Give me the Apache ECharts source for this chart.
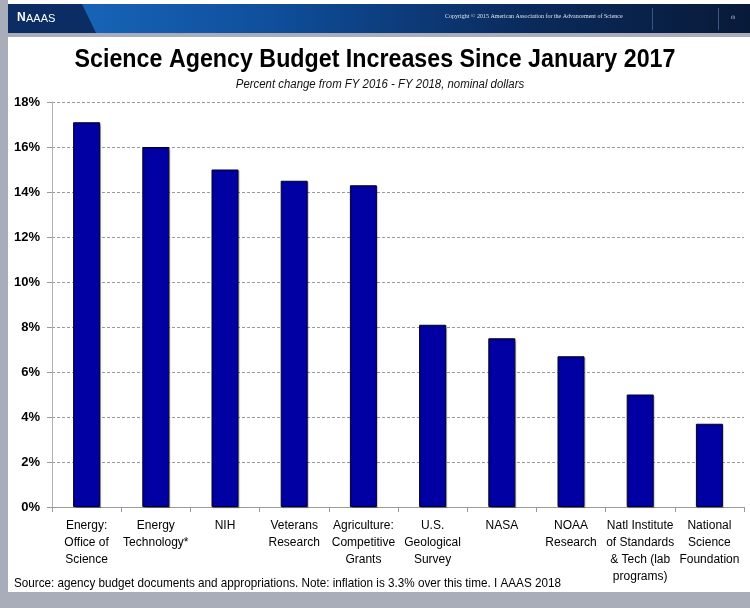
<!DOCTYPE html>
<html>
<head>
<meta charset="utf-8">
<script src="https://cdn.jsdelivr.net/npm/echarts@6/dist/echarts.min.js"></script>
<style>
html, body { margin: 0; padding: 0; background: #fff; }
#chart { width: 750px; height: 608px; }
</style>
</head>
<body>
<div id="chart"></div>
<script>
// agencies, in the order shown
var agencies = [
	'Energy:\nOffice of\nScience',
	'Energy\nTechnology*',
	'NIH',
	'Veterans\nResearch',
	'Agriculture:\nCompetitive\nGrants',
	'U.S.\nGeological\nSurvey',
	'NASA',
	'NOAA\nResearch',
	'Natl Institute\nof Standards\n& Tech (lab\nprograms)',
	'National\nScience\nFoundation'
];
// percent change FY2016 - FY2018
var pctChange = [17.1, 16.0, 15.0, 14.5, 14.3, 8.1, 7.5, 6.7, 5.0, 3.7];
var yTicks = [0, 2, 4, 6, 8, 10, 12, 14, 16, 18];

var FONT = "'Liberation Sans', Arial, sans-serif";

var chart = echarts.init(document.getElementById('chart'));

var option = {
	backgroundColor: '#fff',
	animation: false,
	grid: {
		left: 52,
		right: 6,
		top: 102,
		bottom: 101
	},
	xAxis: {
		type: 'category',
		data: agencies,
		axisLine: { lineStyle: { color: '#9a9a9a', width: 1 } },
		axisTick: { show: true, length: 5, lineStyle: { color: '#9a9a9a' } },
		axisLabel: {
			interval: 0,
			margin: 10,
			lineHeight: 17,
			fontFamily: FONT,
			fontSize: 12,
			color: '#000'
		}
	},
	yAxis: {
		type: 'value',
		min: 0,
		max: 18,
		interval: 2,
		axisLine: { show: true, lineStyle: { color: '#b0b0b0', width: 1 } },
		axisTick: { show: true, length: 5, lineStyle: { color: '#9a9a9a' } },
		splitLine: { lineStyle: { color: '#999', type: [3, 2], width: 1 } },
		axisLabel: {
			margin: 12,
			fontFamily: FONT,
			fontWeight: 'bold',
			fontSize: 13,
			color: '#000',
			formatter: function (v) {
				return yTicks.indexOf(v) >= 0 ? v + '%' : '';
			}
		}
	},
	series: [{
		type: 'bar',
		data: pctChange,
		barWidth: 27,
		itemStyle: {
			color: '#0000a3',
			borderColor: '#000033',
			borderWidth: 1,
			shadowColor: 'rgba(0,0,0,0.25)',
			shadowOffsetX: 1,
			shadowOffsetY: 1,
			shadowBlur: 1
		}
	}],
	graphic: [
		// page frame bits
		{ type: 'rect', shape: { x: 0, y: 0, width: 8, height: 608 }, style: { fill: '#a9adb9' }, z: 100 },
		{ type: 'rect', shape: { x: 0, y: 592, width: 750, height: 16 }, style: { fill: '#a9adb9' }, z: 100 },
		{ type: 'rect', shape: { x: 0, y: 33, width: 750, height: 4 }, style: { fill: '#a9adb9' }, z: 100 },
		// header band
		{
			type: 'rect', shape: { x: 8, y: 4, width: 742, height: 29 }, z: 100,
			style: {
				fill: new echarts.graphic.LinearGradient(0, 0, 1, 0, [
					{ offset: 0, color: '#1a6cc2' },
					{ offset: 0.35, color: '#0f4f9c' },
					{ offset: 0.7, color: '#0a2a5c' },
					{ offset: 1, color: '#081a38' }
				])
			}
		},
		{
			type: 'polygon', z: 101,
			shape: { points: [[8, 4], [82, 4], [96, 33], [8, 33]] },
			style: { fill: '#0b2d63' }
		},
		{
			type: 'text', z: 102, left: 17, top: 12,
			style: { text: 'N', fill: '#fff', font: 'bold 12px ' + FONT }
		},
		{
			type: 'text', z: 102, left: 26, top: 13,
			style: { text: 'AAAS', fill: '#fff', font: '11px ' + FONT }
		},
		{
			type: 'text', z: 102, left: 445, top: 13,
			style: { text: 'Copyright \u00a9 2015 American Association for the Advancement of Science', fill: '#dfe6f0', font: "6px 'Liberation Serif'" }
		},
		{ type: 'rect', z: 102, shape: { x: 652, y: 8, width: 1, height: 22 }, style: { fill: '#3a5682' } },
		{ type: 'rect', z: 102, shape: { x: 718, y: 8, width: 1, height: 22 }, style: { fill: '#3a5682' } },
		{
			type: 'text', z: 102, left: 731, top: 15,
			style: { text: '\u0131l\u0131', fill: '#cfd8e6', font: '5px ' + FONT }
		},
		// title + subtitle
		{
			type: 'text', x: 375, y: 60, scaleX: 0.93,
			style: {
				text: 'Science Agency Budget Increases Since January 2017',
				fill: '#000', font: 'bold 25px ' + FONT,
				textAlign: 'center', textVerticalAlign: 'middle'
			}
		},
		{
			type: 'text', x: 380, y: 85, scaleX: 0.95,
			style: {
				text: 'Percent change from FY 2016 - FY 2018, nominal dollars',
				fill: '#111', font: 'italic 12px ' + FONT,
				textAlign: 'center', textVerticalAlign: 'middle'
			}
		},
		// source note
		{
			type: 'text', x: 14, y: 583, scaleX: 0.9,
			style: {
				text: 'Source: agency budget documents and appropriations. Note: inflation is 3.3% over this time. I AAAS 2018',
				fill: '#000', font: '13px ' + FONT,
				textVerticalAlign: 'middle'
			}
		}
	]
};

chart.setOption(option);
</script>
</body>
</html>
